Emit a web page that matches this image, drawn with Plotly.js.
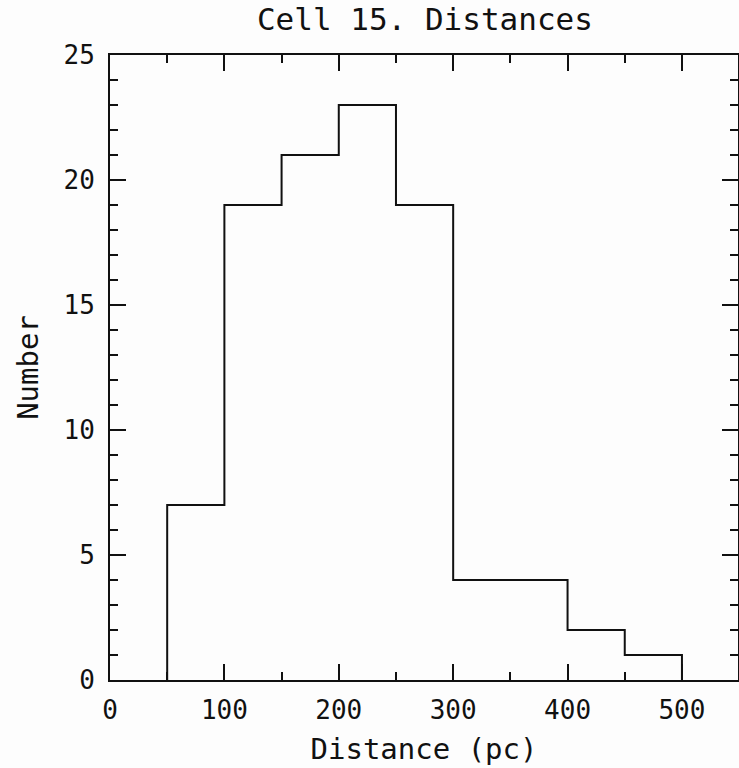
<!DOCTYPE html>
<html>
<head>
<meta charset="utf-8">
<script src="https://cdn.plot.ly/plotly-3.0.1.min.js"></script>
<style>html,body{margin:0;padding:0;background:#fdfdfd;}</style>
</head>
<body>
<div id="chart" style="width:739px;height:768px;"></div>
<script>
// Histogram of distances (pc), bin width 50
const binLeftEdges = [50, 100, 150, 200, 250, 300, 350, 400, 450];
const binWidth = 50;
const counts = [7, 19, 21, 23, 19, 4, 4, 2, 1];
const xTickVals = [0, 100, 200, 300, 400, 500];
const yTickVals = [0, 5, 10, 15, 20, 25];

// step outline built from the bins
const stepX = [binLeftEdges[0]].concat(binLeftEdges, [binLeftEdges[binLeftEdges.length - 1] + binWidth]);
const stepY = [0].concat(counts, [0]);

const FONT = "DejaVu Sans Mono, monospace";

Plotly.newPlot('chart', [{
  type: 'scatter',
  mode: 'lines',
  x: stepX,
  y: stepY,
  line: {shape: 'hv', color: '#111', width: 2},
  hoverinfo: 'skip'
}], {
  width: 739, height: 768,
  paper_bgcolor: '#fdfdfd', plot_bgcolor: '#fdfdfd',
  margin: {l: 110, r: 1, t: 55, b: 88},
  showlegend: false,
  title: {text: 'Cell 15. Distances', font: {family: FONT, size: 31, color: '#111'},
          x: 0.575, xanchor: 'center', y: 0.975, yanchor: 'middle'},
  xaxis: {
    range: [0, 549], showgrid: false, zeroline: false,
    showline: true, linecolor: '#111', linewidth: 2, mirror: 'allticks',
    ticks: 'inside', ticklen: 16, tickwidth: 2, tickcolor: '#111',
    tickvals: xTickVals, ticktext: xTickVals.map(String),
    minor: {dtick: 50, tick0: 0, ticks: 'inside', ticklen: 8, tickwidth: 2, tickcolor: '#111', showgrid: false},
    tickfont: {family: FONT, size: 26, color: '#111'},
    ticklabelstandoff: 6,
    title: {text: 'Distance (pc)', font: {family: FONT, size: 29, color: '#111'}, standoff: 14}
  },
  yaxis: {
    range: [0, 25], showgrid: false, zeroline: false,
    showline: true, linecolor: '#111', linewidth: 2, mirror: 'allticks',
    ticks: 'inside', ticklen: 16, tickwidth: 2, tickcolor: '#111',
    tickvals: yTickVals, ticktext: yTickVals.map(String),
    minor: {dtick: 1, tick0: 0, ticks: 'inside', ticklen: 8, tickwidth: 2, tickcolor: '#111', showgrid: false},
    tickfont: {family: FONT, size: 26, color: '#111'},
    ticklabelstandoff: 8,
    title: {text: 'Number', font: {family: FONT, size: 29, color: '#111'}, standoff: 16}
  }
}, {staticPlot: true, displayModeBar: false});
</script>
</body>
</html>
